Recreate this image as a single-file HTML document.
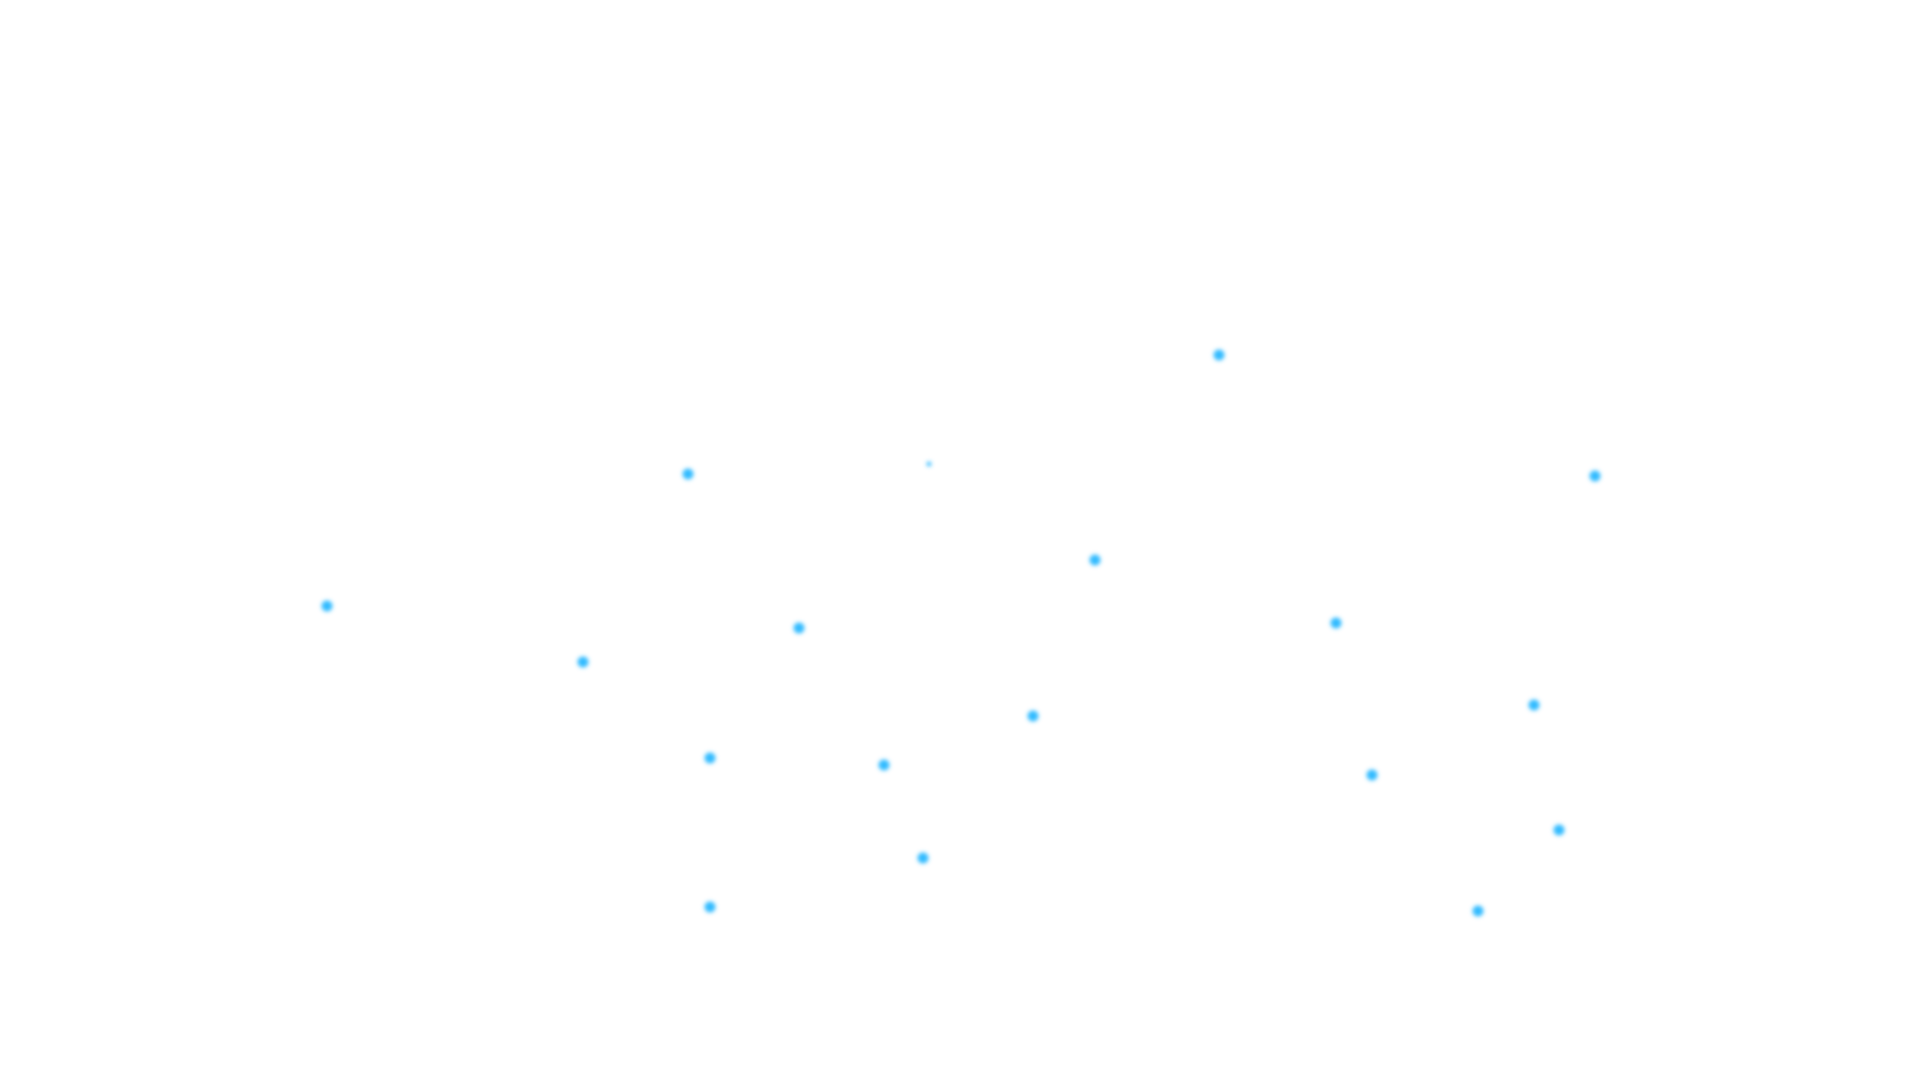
<!DOCTYPE html>
<html><head><style>html,body{margin:0;padding:0;background:#fff;width:1920px;height:1080px;overflow:hidden}</style></head>
<body>
<svg width="1920" height="1080" xmlns="http://www.w3.org/2000/svg">
<defs><filter id="b" x="-100%" y="-100%" width="300%" height="300%"><feGaussianBlur stdDeviation="2.2"/></filter></defs>
<g fill="#33bbff" filter="url(#b)" transform="translate(1,1)">
<circle cx="1218" cy="354" r="5.5"/>
<circle cx="687" cy="473" r="5.5"/>
<circle cx="928" cy="463" r="2.4"/>
<circle cx="1594" cy="475" r="5.5"/>
<circle cx="1094" cy="559" r="5.5"/>
<circle cx="326" cy="605" r="5.5"/>
<circle cx="1335" cy="622" r="5.5"/>
<circle cx="798" cy="627" r="5.5"/>
<circle cx="582" cy="661" r="5.5"/>
<circle cx="1533" cy="704" r="5.5"/>
<circle cx="1032" cy="715" r="5.5"/>
<circle cx="709" cy="757" r="5.5"/>
<circle cx="883" cy="764" r="5.5"/>
<circle cx="1371" cy="774" r="5.5"/>
<circle cx="1558" cy="829" r="5.5"/>
<circle cx="922" cy="857" r="5.5"/>
<circle cx="709" cy="906" r="5.5"/>
<circle cx="1477" cy="910" r="5.5"/>
</g>
</svg>
</body></html>
